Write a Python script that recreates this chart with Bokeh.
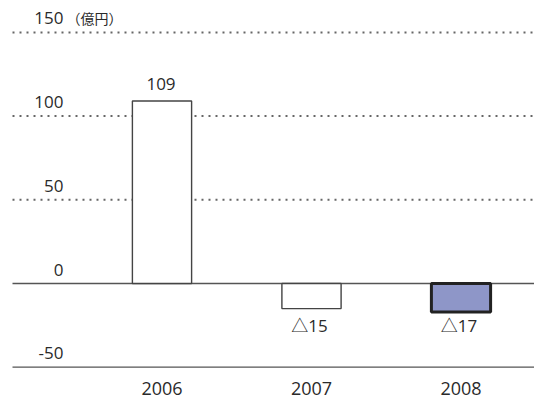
from bokeh.plotting import figure
from bokeh.models import Range1d, ColumnDataSource
from bokeh.core.properties import value
from bokeh.embed import file_html
from bokeh.resources import INLINE

# ---- data ----
years = ["2006", "2007", "2008"]
profits = [109, -15, -17]
tick_values = [-50, 0, 50, 100, 150]
unit_label = "（億円）"

# ---- styles ----
fill_colors = ["#ffffff", "#ffffff", "#8e96c8"]
edge_colors = ["#444444", "#444444", "#222222"]
edge_widths = [1.4, 1.4, 3.0]
FONT = value("'Open Sans', 'Noto Sans CJK JP'")
CJK = value("Noto Sans CJK JP")
TXT = "#2a2a2a"
FIX = -7  # baseline correction (px)

# ---- geometry (pixel -> data mapping) ----
W, H = 534, 400
PX_PER_X = 149.5
X0_FRAME = 161.5
x_start = -X0_FRAME / PX_PER_X
x_end = (W - X0_FRAME) / PX_PER_X
PX_PER_Y = 83.7 / 50
ZERO_FRAME = 283
y_end = ZERO_FRAME / PX_PER_Y
y_start = -(H - ZERO_FRAME) / PX_PER_Y

xs = list(range(len(years)))

p = figure(width=W, height=H, x_range=Range1d(x_start, x_end),
           y_range=Range1d(y_start, y_end), output_backend="svg",
           toolbar_location=None, min_border=0,
           x_axis_type=None, y_axis_type=None)
p.grid.visible = False
p.outline_line_color = None
p.background_fill_color = "white"
p.border_fill_color = "white"

# gridlines
solid = [t for t in tick_values if t <= 0]
dotted = [t for t in tick_values if t > 0]
p.segment(x0=[-1] * len(dotted), x1=[x_end + 1] * len(dotted), y0=dotted, y1=dotted,
          line_color="#666666", line_width=2, line_dash="2 5")
p.segment(x0=[-1] * len(solid), x1=[x_end + 1] * len(solid), y0=solid, y1=solid,
          line_color="#555555", line_width=1.3)

# bars
src = ColumnDataSource(dict(x=xs, top=profits, fill=fill_colors,
                            edge=edge_colors, lw=edge_widths))
p.vbar(x="x", top="top", bottom=0, width=0.396, source=src,
       fill_color="fill", line_color="edge", line_width="lw")

# y tick labels
p.text(x=[-1] * len(tick_values), y=tick_values, text=[str(t) for t in tick_values],
       x_offset=51, y_offset=-7 + FIX, text_align="right", text_baseline="alphabetic",
       text_font=FONT, text_font_size="17px", text_color=TXT)
p.text(x=[-1] * 1, y=[max(tick_values)], text=[unit_label], x_offset=54, y_offset=-7 + FIX,
       text_align="left", text_baseline="alphabetic",
       text_font=CJK, text_font_size="14px", text_color=TXT)

# value labels
pos_x = [x for x, v in zip(xs, profits) if v >= 0]
pos_v = [v for v in profits if v >= 0]
neg_x = [x for x, v in zip(xs, profits) if v < 0]
neg_v = [v for v in profits if v < 0]
p.text(x=pos_x, y=pos_v, text=[str(v) for v in pos_v], x_offset=-1, y_offset=-10.5 + FIX,
       text_align="center", text_baseline="alphabetic",
       text_font=FONT, text_font_size="17px", text_color=TXT)
p.text(x=neg_x, y=[min(neg_v)] * len(neg_v), text=["△" + str(-v) for v in neg_v],
       x_offset=-2, y_offset=21 + FIX, text_align="center", text_baseline="alphabetic",
       text_font=FONT, text_font_size="17px", text_color=TXT)

# category labels
p.text(x=xs, y=[min(tick_values)] * len(xs), text=years, y_offset=28 + FIX,
       text_align="center", text_baseline="alphabetic",
       text_font=FONT, text_font_size="18px", text_color=TXT)

open("out.html", "w").write(file_html(p, INLINE))
